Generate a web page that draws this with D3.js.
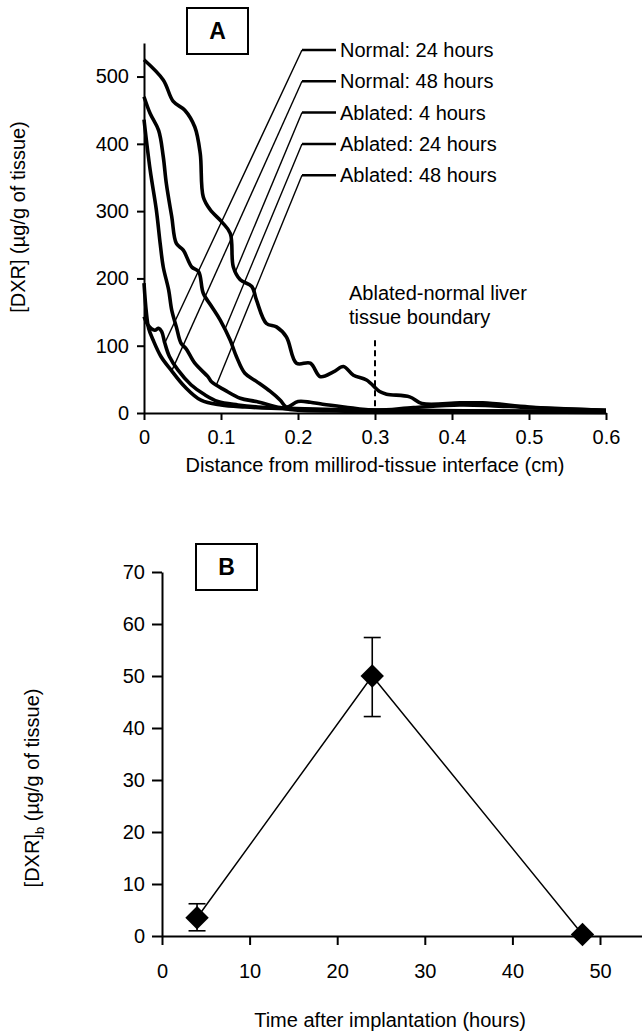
<!DOCTYPE html>
<html>
<head>
<meta charset="utf-8">
<script src="https://cdn.jsdelivr.net/npm/d3@7"></script>
<style>
  body { margin: 0; background: #fff; }
  svg { display: block; font-family: "Liberation Sans", Arial, sans-serif; }
</style>
</head>
<body>
<svg id="chart" width="642" height="1034"></svg>
<script>
// Panel A: [distance (cm), DXR (ug/g)]
const normal24h = [[0,143],[0.005,131],[0.014,123],[0.019,126],[0.023,121],[0.027,104],[0.033,84],[0.044,64],[0.061,42],[0.079,27],[0.096,17],[0.122,12],[0.148,9],[0.187,7],[0.25,5],[0.35,4],[0.45,3],[0.6,2]];
const normal48h = [[0,193],[0.003,150],[0.006,126],[0.012,108],[0.022,84],[0.035,64],[0.053,39],[0.074,19],[0.1,12],[0.131,9],[0.165,7],[0.22,5],[0.3,3],[0.45,3],[0.6,2]];
const ablated4h = [[0,525],[0.025,495],[0.038,463],[0.053,450],[0.066,425],[0.073,386],[0.077,321],[0.086,302],[0.101,284],[0.112,267],[0.116,217],[0.125,198],[0.14,188],[0.146,168],[0.159,133],[0.172,128],[0.185,113],[0.198,74],[0.216,74],[0.229,54],[0.246,61],[0.259,69],[0.272,56],[0.289,49],[0.306,32],[0.315,28],[0.345,24],[0.361,14],[0.41,15],[0.44,15],[0.5,9],[0.55,6],[0.6,4]];
const ablated24h = [[0,470],[0.008,445],[0.019,420],[0.025,381],[0.029,341],[0.036,292],[0.042,252],[0.051,242],[0.062,217],[0.071,210],[0.077,178],[0.088,158],[0.099,138],[0.112,108],[0.12,84],[0.131,59],[0.146,47],[0.164,32],[0.177,19],[0.185,9],[0.2,17],[0.216,16],[0.232,13],[0.26,9],[0.3,4],[0.35,8],[0.41,12],[0.45,11],[0.5,8],[0.6,4]];
const ablated48h = [[0,436],[0.008,361],[0.016,302],[0.021,252],[0.025,217],[0.032,183],[0.036,153],[0.042,128],[0.048,104],[0.055,95],[0.066,74],[0.083,54],[0.088,46],[0.105,34],[0.125,22],[0.146,17],[0.177,8],[0.2,4],[0.25,3],[0.3,2],[0.4,2],[0.6,1]];

const seriesA = [normal24h, normal48h, ablated4h, ablated24h, ablated48h];
const labelsA = ['Normal: 24 hours', 'Normal: 48 hours', 'Ablated: 4 hours', 'Ablated: 24 hours', 'Ablated: 48 hours'];
// distance at which each label's leader line touches its curve
const leaderAt = [0.027, 0.036, 0.119, 0.105, 0.094];
const boundaryCm = 0.3;

const xTicksA = [0, 0.1, 0.2, 0.3, 0.4, 0.5, 0.6];
const yTicksA = [0, 100, 200, 300, 400, 500];

// Panel B: boundary concentration vs time
const hours = [4, 24, 48];
const dxrB = [3.5, 50, 0.3];
const errLow = [1.0, 42.2, null];
const errHigh = [6.2, 57.4, null];

const xTicksB = [0, 10, 20, 30, 40, 50];
const yTicksB = [0, 10, 20, 30, 40, 50, 60, 70];

const svg = d3.select('#chart');
const FONT = 20;

function styleAxis(g) {
  g.attr('font-size', FONT).attr('font-family', null);
  g.selectAll('path, line').attr('stroke', '#000').attr('stroke-width', 2);
  g.selectAll('text').attr('fill', '#000');
}

function panelBox(x, y, w, h, letter) {
  svg.append('rect')
    .attr('x', x).attr('y', y).attr('width', w).attr('height', h)
    .attr('fill', '#fff').attr('stroke', '#000').attr('stroke-width', 2);
  svg.append('text')
    .attr('x', x + w / 2).attr('y', y + h / 2 + 8)
    .attr('text-anchor', 'middle')
    .attr('font-size', 23).attr('font-weight', 'bold')
    .text(letter);
}

// ---------- Panel A ----------
const xA = d3.scaleLinear().domain([0, 0.6]).range([144, 606]);
const yA = d3.scaleLinear().domain([0, 550]).range([413, 42.9]);

const lineA = d3.line()
  .x(d => xA(d[0]))
  .y(d => yA(d[1]))
  .curve(d3.curveCatmullRom.alpha(0.5));

function valueAt(series, x) {
  const i = d3.bisector(d => d[0]).left(series, x);
  if (i <= 0) return series[0][1];
  const a = series[i - 1], b = series[i];
  return a[1] + (b[1] - a[1]) * (x - a[0]) / (b[0] - a[0]);
}

svg.append('g')
  .attr('transform', 'translate(0,' + yA(0) + ')')
  .call(d3.axisBottom(xA).tickValues(xTicksA).tickSize(7).tickSizeOuter(0).tickPadding(10)
    .tickFormat(d => d === 0 ? '0' : d3.format('.1f')(d)))
  .call(styleAxis);

svg.append('g')
  .attr('transform', 'translate(' + xA(0) + ',0)')
  .call(d3.axisLeft(yA).tickValues(yTicksA).tickSize(7).tickSizeOuter(0).tickPadding(8))
  .call(styleAxis);

svg.append('text')
  .attr('transform', 'translate(25,217) rotate(-90)')
  .attr('text-anchor', 'middle')
  .attr('font-size', FONT)
  .text('[DXR] (µg/g of tissue)');

svg.append('text')
  .attr('x', 375).attr('y', 472)
  .attr('text-anchor', 'middle')
  .attr('font-size', FONT)
  .text('Distance from millirod-tissue interface (cm)');

svg.selectAll('.curveA')
  .data(seriesA)
  .enter()
  .append('path')
  .attr('class', 'curveA')
  .attr('d', lineA)
  .attr('fill', 'none')
  .attr('stroke', '#000')
  .attr('stroke-width', 3.6)
  .attr('stroke-linejoin', 'round');

// legend labels with leader lines
const legX = 302, legTop = 50, legStep = 31.3;
labelsA.forEach((label, i) => {
  const ly = legTop + i * legStep;
  const tx = xA(leaderAt[i]), ty = yA(valueAt(seriesA[i], leaderAt[i]));
  svg.append('line')
    .attr('x1', legX).attr('y1', ly).attr('x2', tx).attr('y2', ty)
    .attr('stroke', '#000').attr('stroke-width', 1.4);
  svg.append('line')
    .attr('x1', legX).attr('y1', ly).attr('x2', legX + 34).attr('y2', ly)
    .attr('stroke', '#000').attr('stroke-width', 2.5);
  svg.append('text')
    .attr('x', legX + 38).attr('y', ly + 7)
    .attr('font-size', FONT)
    .text(label);
});

// ablated / normal tissue boundary
svg.append('line')
  .attr('x1', xA(boundaryCm)).attr('x2', xA(boundaryCm))
  .attr('y1', yA(108)).attr('y2', yA(10))
  .attr('stroke', '#000').attr('stroke-width', 2)
  .attr('stroke-dasharray', '6,4');
svg.append('text')
  .attr('x', 349).attr('y', 300)
  .attr('font-size', FONT)
  .text('Ablated-normal liver');
svg.append('text')
  .attr('x', 349).attr('y', 324)
  .attr('font-size', FONT)
  .text('tissue boundary');

panelBox(187, 8, 61, 46, 'A');

// ---------- Panel B ----------
const xB = d3.scaleLinear().domain([0, 55]).range([162, 643.8]);
const yB = d3.scaleLinear().domain([0, 70]).range([936, 572]);

svg.append('g')
  .attr('transform', 'translate(0,' + yB(0) + ')')
  .call(d3.axisBottom(xB).tickValues(xTicksB).tickSize(9).tickSizeOuter(0).tickPadding(19))
  .call(styleAxis);

svg.append('g')
  .attr('transform', 'translate(' + xB(0) + ',0)')
  .call(d3.axisLeft(yB).tickValues(yTicksB).tickSize(10).tickSizeOuter(0).tickPadding(7))
  .call(styleAxis);

const yLabelB = svg.append('text')
  .attr('transform', 'translate(39,788) rotate(-90)')
  .attr('text-anchor', 'middle')
  .attr('font-size', FONT);
yLabelB.append('tspan').text('[DXR]');
yLabelB.append('tspan').attr('font-size', 13).attr('dy', 5).text('b');
yLabelB.append('tspan').attr('dy', -5).text(' (µg/g of tissue)');

svg.append('text')
  .attr('x', 390).attr('y', 1027)
  .attr('text-anchor', 'middle')
  .attr('font-size', FONT)
  .text('Time after implantation (hours)');

const pointsB = hours.map((h, i) => ({ h: h, v: dxrB[i], lo: errLow[i], hi: errHigh[i] }));

svg.append('path')
  .datum(pointsB)
  .attr('d', d3.line().x(d => xB(d.h)).y(d => yB(d.v)))
  .attr('fill', 'none')
  .attr('stroke', '#000')
  .attr('stroke-width', 1.5);

const errs = svg.selectAll('.err')
  .data(pointsB.filter(d => d.lo !== null))
  .enter()
  .append('g')
  .attr('class', 'err')
  .attr('stroke', '#000')
  .attr('stroke-width', 1.6);
errs.append('line')
  .attr('x1', d => xB(d.h)).attr('x2', d => xB(d.h))
  .attr('y1', d => yB(d.lo)).attr('y2', d => yB(d.hi));
errs.append('line')
  .attr('x1', d => xB(d.h) - 8.5).attr('x2', d => xB(d.h) + 8.5)
  .attr('y1', d => yB(d.lo)).attr('y2', d => yB(d.lo));
errs.append('line')
  .attr('x1', d => xB(d.h) - 8.5).attr('x2', d => xB(d.h) + 8.5)
  .attr('y1', d => yB(d.hi)).attr('y2', d => yB(d.hi));

svg.selectAll('.diamond')
  .data(pointsB)
  .enter()
  .append('path')
  .attr('class', 'diamond')
  .attr('d', d3.symbol().type(d3.symbolSquare).size(275))
  .attr('transform', d => 'translate(' + xB(d.h) + ',' + yB(d.v) + ') rotate(45)')
  .attr('fill', '#000');

panelBox(196, 544, 61, 46, 'B');
</script>
</body>
</html>
